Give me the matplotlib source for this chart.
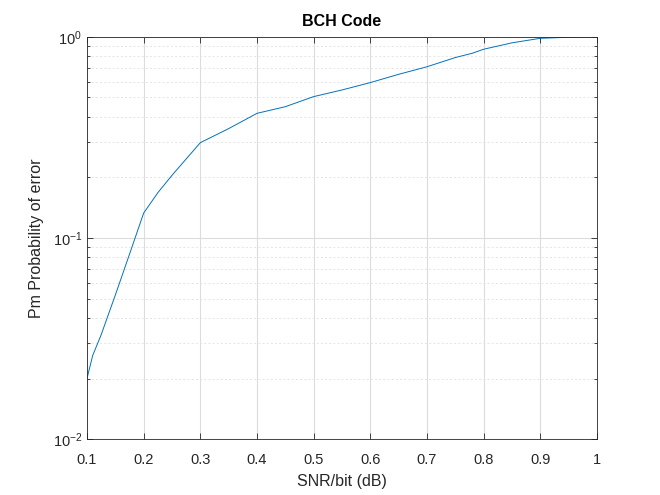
import numpy as np
import matplotlib.pyplot as plt
from matplotlib.ticker import LogLocator, NullFormatter, FixedLocator

plt.rcParams['font.family'] = ['Liberation Sans', 'DejaVu Sans']
plt.rcParams['mathtext.fontset'] = 'custom'
plt.rcParams['mathtext.rm'] = 'Liberation Sans'

# SNR per bit (dB) and probability of error
snr = [0.10, 0.11, 0.125, 0.15, 0.175, 0.20, 0.225, 0.25, 0.30, 0.35,
       0.40, 0.45, 0.50, 0.55, 0.60, 0.65, 0.70, 0.75, 0.78, 0.80,
       0.85, 0.90, 0.95, 1.00]
pm = [0.020, 0.026, 0.033, 0.052, 0.083, 0.133, 0.168, 0.205, 0.298, 0.350,
      0.417, 0.450, 0.505, 0.545, 0.593, 0.652, 0.711, 0.790, 0.830, 0.869,
      0.935, 0.985, 0.997, 1.000]
xticks = [0.1, 0.2, 0.3, 0.4, 0.5, 0.6, 0.7, 0.8, 0.9, 1.0]
xticklabels = ['0.1', '0.2', '0.3', '0.4', '0.5', '0.6', '0.7', '0.8', '0.9', '1']

fig = plt.figure(figsize=(6.6, 4.95), dpi=100)
ax = fig.add_axes([0.1318, 0.1131, 0.7727, 0.8122])

ax.semilogy(snr, pm, color='#0072BD', linewidth=0.7)

ax.set_xlim(0.1, 1.0)
ax.set_ylim(1e-2, 1e0)
ax.set_xticks(xticks)
ax.set_xticklabels(xticklabels)
ax.yaxis.set_major_locator(FixedLocator([1e-2, 1e-1, 1e0]))
ax.yaxis.set_minor_locator(LogLocator(base=10, subs=np.arange(2, 10)))
ax.yaxis.set_minor_formatter(NullFormatter())

ax.grid(True, which='major', color='#dcdcdc', linestyle='-', linewidth=0.8)
ax.grid(True, which='minor', axis='y', color='#e2e2e2', linestyle=(0, (2.5, 2.5)), linewidth=0.6)
ax.set_axisbelow(True)

ax.tick_params(which='both', direction='in', top=True, right=True, colors='#262626',
               labelsize=10.5, width=0.6)
ax.tick_params(which='major', length=4)
ax.tick_params(which='minor', length=2.5)
ax.tick_params(axis='x', pad=10)
for s in ax.spines.values():
    s.set_color('#262626')
    s.set_linewidth(0.6)

ax.set_xlabel('SNR/bit (dB)', fontsize=11.5, color='#262626', labelpad=5)
ax.set_ylabel('Pm Probability of error', fontsize=11.5, color='#262626', labelpad=6)
ax.set_title('BCH Code', fontsize=11.5, fontweight='bold', color='#000000', pad=8)

fig.savefig('out.png', dpi=100)
